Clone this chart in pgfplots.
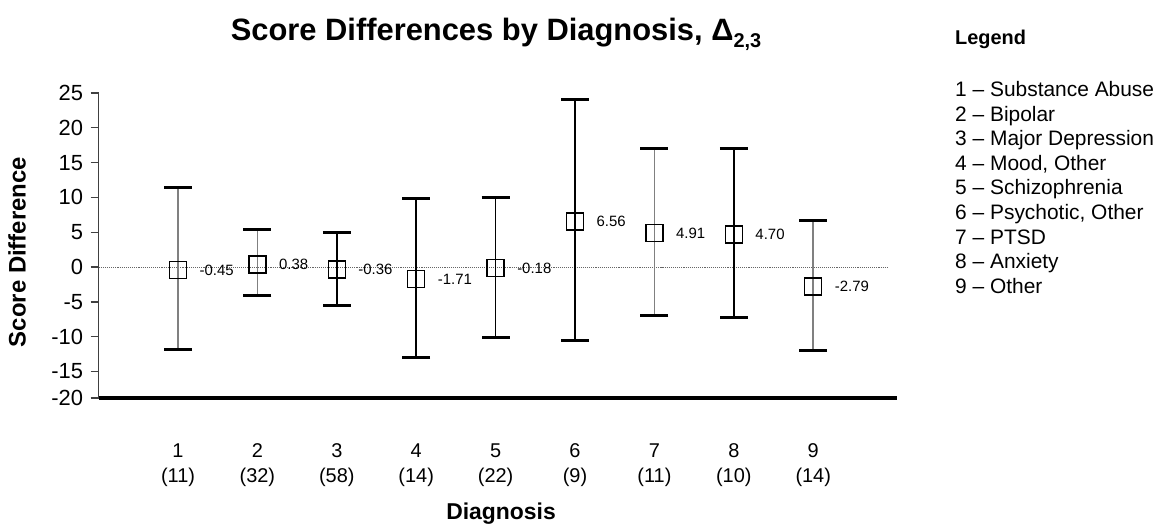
\documentclass[border=0pt]{standalone}
\usepackage{fontspec}
\setmainfont{Liberation Sans}
\usepackage{pgfplots}
\usepackage{pgfplotstable}
\pgfplotsset{compat=1.18}

\pgfplotstableread{
x y ep em lab
1 -0.45 11.85 11.45 -0.45
2 0.38 5.02 4.48 0.38
7 4.91 12.09 11.81 4.91
9 -2.79 9.49 9.21 -2.79
}\datagray
\pgfplotstableread{
x y ep em lab
3 -0.36 5.36 5.14 -0.36
4 -1.71 11.61 11.29 -1.71
5 -0.18 10.18 9.92 -0.18
6 6.56 17.44 17.16 6.56
8 4.70 12.30 12.00 4.70
}\datablack

\begin{document}
\begin{tikzpicture}
\useasboundingbox (0,0) rectangle (1163bp,525bp);
\begin{axis}[
  at={(98.6bp,127bp)}, anchor=south west,
  scale only axis, width=798bp, height=305bp,
  xmin=0, xmax=10.05, ymin=-18.8, ymax=25,
  axis lines*=left,
  x axis line style={line width=3bp, black},
  y axis line style={line width=1.2bp, black!75},
  xtick={1,...,9},
  xticklabels={{1\\(11)},{2\\(32)},{3\\(58)},{4\\(14)},{5\\(22)},{6\\(9)},{7\\(11)},{8\\(10)},{9\\(14)}},
  xticklabel style={align=center, font=\fontsize{20}{25}\selectfont, yshift=-34bp},
  x tick style={draw=none},
  ytick={-18.8,-15,-10,-5,0,5,10,15,20,25},
  yticklabels={-20,-15,-10,-5,0,5,10,15,20,25},
  yticklabel style={font=\fontsize{22}{24}\selectfont, xshift=-4bp},
  y tick style={line width=1.2bp, black!75},
  tick align=outside, major tick length=8bp,
  ylabel={Score Difference},
  every axis y label/.style={at={(-81.6bp,146bp)}, rotate=90, anchor=center, font=\fontsize{24}{24}\selectfont\bfseries},
  xlabel={Diagnosis},
  every axis x label/.style={at={(402.4bp,-121bp)}, anchor=base, font=\fontsize{23}{23}\selectfont\bfseries},
  clip=false,
]
\addplot[densely dotted, line width=1.1bp, black!60] coordinates {(0,0) (9.93,0)};
\addplot[only marks, mark=square, mark size=8.5bp,
  mark options={line width=1.3bp, black, fill=none},
  nodes near coords, point meta=explicit symbolic,
  every node near coord/.append style={anchor=west, xshift=21bp, yshift=0bp, inner sep=0pt, font=\fontsize{15}{15}\selectfont, black},
  error bars/.cd, y dir=both, y explicit,
  error bar style={line width=1.8bp, black!50},
  error mark options={rotate=90, line width=3bp, black, mark size=14bp}]
  table[x=x, y=y, y error plus=ep, y error minus=em, meta=lab] {\datagray};
\addplot[only marks, mark=square, mark size=8.5bp,
  mark options={line width=1.3bp, black, fill=none},
  nodes near coords, point meta=explicit symbolic,
  every node near coord/.append style={anchor=west, xshift=21bp, yshift=0bp, inner sep=0pt, font=\fontsize{15}{15}\selectfont, black},
  error bars/.cd, y dir=both, y explicit,
  error bar style={line width=1.6bp, black},
  error mark options={rotate=90, line width=3bp, black, mark size=14bp}]
  table[x=x, y=y, y error plus=ep, y error minus=em, meta=lab] {\datablack};
\end{axis}
\node[anchor=base, inner sep=0pt, font=\fontsize{31}{31}\selectfont\bfseries] at (496bp,484bp)
  {Score Differences by Diagnosis, Δ\raisebox{-0.22em}{\fontsize{20}{20}\selectfont 2,3}};
\node[anchor=base west, inner sep=0pt, font=\fontsize{20}{20}\selectfont\bfseries] at (955bp,480bp) {Legend};
\node[anchor=north west, inner sep=0pt, align=left, font=\fontsize{21}{24.75}\selectfont] at (955bp,444bp)
  {1 – Substance Abuse\\2 – Bipolar\\3 – Major Depression\\4 – Mood, Other\\5 – Schizophrenia\\6 – Psychotic, Other\\7 – PTSD\\8 – Anxiety\\9 – Other};
\end{tikzpicture}
\end{document}
